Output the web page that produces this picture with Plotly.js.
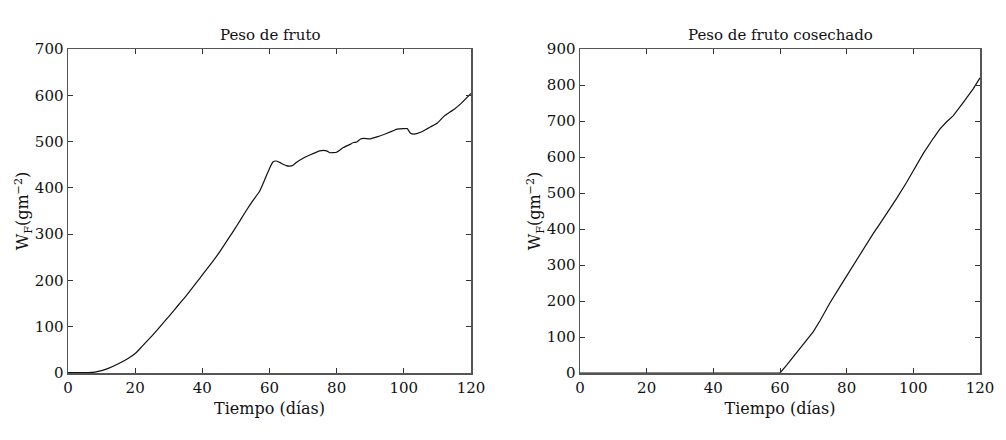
<!DOCTYPE html>
<html>
<head>
<meta charset="utf-8">
<script src="https://cdn.plot.ly/plotly-3.0.1.min.js"></script>
<style>html,body{margin:0;padding:0;background:#fff;}#chart{width:1006px;height:440px;}</style>
</head>
<body>
<div id="chart"></div>
<script>
// Peso de fruto
const diasA = [0, 3, 6, 8, 10, 12, 15, 18, 20, 22, 25, 28, 30, 33, 35, 38, 40, 43, 45, 48, 50, 53, 55, 57, 58, 59, 60, 61, 62, 63, 65, 66, 67, 68, 70, 72, 75, 77, 78, 80, 82, 84, 85, 86, 87, 88, 90, 92, 95, 97, 98, 100, 101, 102, 103, 105, 107, 108, 110, 112, 115, 117, 120];
const pesoA = [1, 1, 1, 2, 5, 10, 20, 32, 42, 57, 80, 105, 122, 148, 165, 193, 212, 240, 260, 293, 315, 350, 372, 392, 408, 425, 442, 456, 458, 455, 448, 447, 449, 455, 464, 471, 480, 480, 476, 477, 487, 494, 498, 499, 505, 507, 506, 510, 518, 524, 527, 528, 528, 518, 516, 520, 528, 532, 540, 555, 570, 582, 604];
// Peso de fruto cosechado
const diasB = [0, 20, 40, 59, 60, 62, 64, 66, 68, 70, 72, 75, 78, 80, 83, 85, 88, 90, 93, 95, 98, 100, 103, 106, 108, 110, 112, 115, 118, 120];
const pesoB = [0, 0, 0, 0, 0, 22, 45, 68, 90, 115, 145, 195, 240, 270, 312, 342, 388, 415, 455, 485, 530, 562, 610, 652, 678, 698, 715, 752, 790, 820];

const titles = ["Peso de fruto", "Peso de fruto cosechado"];
const xTitle = "Tiempo (días)";
const yTitle = "W<sub>F</sub>(gm<sup>−2</sup>)";

const FONT = "DejaVu Serif";
const axisBase = {
  showgrid: false, zeroline: false, showline: true, linecolor: "#555", linewidth: 1.5,
  mirror: "allticks", ticks: "inside", ticklen: 5, tickcolor: "#333", tickwidth: 1,
  tickfont: {family: FONT, size: 15, color: "#111"}
};
const yDom = [1 - 373/440, 1 - 49/440];

const layout = {
  width: 1006, height: 440,
  margin: {l: 0, r: 0, t: 0, b: 0},
  paper_bgcolor: "#fff", plot_bgcolor: "#fff",
  showlegend: false,
  font: {family: FONT, color: "#111"},
  xaxis: Object.assign({}, axisBase, {domain: [68/1006, 471/1006], range: [0, 120], dtick: 20, anchor: "y",
    title: {text: xTitle, font: {family: FONT, size: 16}, standoff: 7}}),
  yaxis: Object.assign({}, axisBase, {domain: yDom, range: [0, 700], dtick: 100, anchor: "x",
    title: {text: yTitle, font: {family: FONT, size: 16}, standoff: 0}}),
  xaxis2: Object.assign({}, axisBase, {domain: [580/1006, 980/1006], range: [0, 120], dtick: 20, anchor: "y2",
    title: {text: xTitle, font: {family: FONT, size: 16}, standoff: 7}}),
  yaxis2: Object.assign({}, axisBase, {domain: yDom, range: [0, 900], dtick: 100, anchor: "x2",
    title: {text: yTitle, font: {family: FONT, size: 16}, standoff: 0}}),
  annotations: [
    {text: titles[0], xref: "paper", yref: "paper", x: (68+471)/2/1006, y: 1 - 35/440, xanchor: "center", yanchor: "middle", showarrow: false, font: {family: FONT, size: 15, color: "#111"}},
    {text: titles[1], xref: "paper", yref: "paper", x: (580+980)/2/1006, y: 1 - 35/440, xanchor: "center", yanchor: "middle", showarrow: false, font: {family: FONT, size: 15, color: "#111"}}
  ]
};

const data = [
  {x: diasA, y: pesoA, type: "scatter", mode: "lines", line: {color: "#111", width: 1.2, shape: "spline", smoothing: 0.4}, xaxis: "x", yaxis: "y"},
  {x: diasB, y: pesoB, type: "scatter", mode: "lines", line: {color: "#111", width: 1.2}, xaxis: "x2", yaxis: "y2"}
];

Plotly.newPlot("chart", data, layout, {staticPlot: true, displayModeBar: false});
</script>
</body>
</html>
